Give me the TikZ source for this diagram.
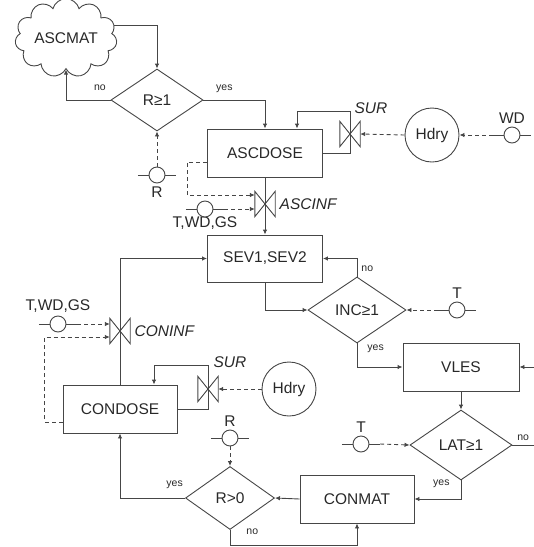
\documentclass[tikz,border=0pt]{standalone}
\usepackage{fontspec}
\setmainfont{Liberation Sans}
\definecolor{lnclr}{RGB}{70,70,70}
\definecolor{txclr}{RGB}{40,40,40}
\usetikzlibrary{arrows.meta,positioning,shapes.geometric,shapes.symbols,calc}

\begin{document}
\begin{tikzpicture}[x=1pt, y=-1pt,
    font=\fontsize{15.5}{18}\selectfont,
    every node/.style={text=txclr},
    procbox/.style={draw=lnclr, line width=0.9pt, minimum width=115pt,
                minimum height=48pt, inner sep=0pt},
    decision/.style={draw=lnclr, line width=0.9pt, diamond, aspect=1.5, inner sep=0pt},
    valve/.style={minimum width=20pt, minimum height=25pt, inner sep=0pt},
    sensor/.style={minimum width=38pt, minimum height=16pt, inner sep=0pt},
    yn/.style={font=\fontsize{10.5}{12}\selectfont, inner sep=1pt},
    vlabel/.style={font=\fontsize{15.5}{18}\selectfont\itshape},
    flow/.style={-{Latex[length=5pt,width=4.5pt]}, line width=0.9pt, lnclr},
    sig/.style={flow, dash pattern=on 4pt off 3pt}
  ]
    \useasboundingbox (0,0) rectangle (534,547);

    % Ascospore side
    \node[cloud, draw=lnclr, line width=0.9pt, cloud puffs=11, aspect=1.45,
          minimum width=102pt, minimum height=70pt, inner sep=0pt] (ascmat) at (66,38) {ASCMAT};
    \node[decision, minimum width=92pt, minimum height=62pt] (dR) at (157,100) {R≥1};
    \node[sensor, label={below:R}] (sR) at (157,175) {};
    \node[procbox] (ascdose) at (265,153) {ASCDOSE};
    \node[valve, label={[vlabel, xshift=21pt, yshift=4pt]above:SUR}] (vSUR1) at (350,134) {};
    \node[draw=lnclr, line width=0.9pt, circle, minimum size=54pt, inner sep=0pt] (hdry1) at (432,135) {Hdry};
    \node[sensor, label={above:WD}] (sWD) at (512,135) {};
    \node[valve, label={[vlabel, label distance=1pt]right:ASCINF}] (vASCINF) at (265,204) {};
    \node[sensor, label={[label distance=-4pt]below:{T,WD,GS}}] (sA) at (205,209) {};

    % Infection and lesions
    \node[procbox, minimum height=47pt] (sev) at (265,258.5) {SEV1,SEV2};
    \node[decision, minimum width=98pt, minimum height=66pt] (dINC) at (357,310) {INC≥1};
    \node[sensor, label={above:T}] (sT1) at (457,310) {};
    \node[procbox, minimum width=116pt] (vles) at (461,367) {VLES};
    \node[decision, minimum width=102pt, minimum height=70pt] (dLAT) at (461,445) {LAT≥1};
    \node[sensor, label={above:T}] (sT2) at (361,444) {};
    \coordinate (inR) at (534,367);
    \coordinate (outR) at (534,445);

    % Conidia side
    \node[procbox, minimum width=114pt] (conmat) at (357,499) {CONMAT};
    \node[decision, minimum width=89pt, minimum height=63pt] (dR0) at (230,498) {R>0};
    \node[sensor, label={above:R}] (sR0) at (230,438) {};
    \node[procbox, minimum width=114pt] (condose) at (120,409) {CONDOSE};
    \node[valve, label={[vlabel, xshift=22pt, yshift=5pt]above:SUR}] (vSUR2) at (208,389) {};
    \node[draw=lnclr, line width=0.9pt, circle, minimum size=54pt, inner sep=0pt] (hdry2) at (289,389) {Hdry};
    \node[valve, label={[vlabel, label distance=1pt]right:CONINF}] (vCON) at (120,331) {};
    \node[sensor, label={above:{T,WD,GS}}] (sC) at (58,324) {};

    % Valves and sensors
    \foreach \v in {vSUR1,vASCINF,vSUR2,vCON}
      \draw[lnclr, line width=0.9pt] (\v.north west) -- (\v.south east)
        -- (\v.north east) -- (\v.south west) -- cycle;
    \foreach \s in {sR,sWD,sA,sT1,sT2,sR0,sC} {
      \draw[lnclr, line width=0.9pt] (\s.west) -- (\s.east);
      \draw[lnclr, line width=0.9pt, fill=white] (\s.center) circle (8pt);
    }

    % Flow arrows
    \draw[flow] (ascmat.15) -| (dR.north);
    \draw[flow] (dR.west) -| node[yn, pos=0.12, above=8pt] {no} (ascmat.south);
    \draw[flow] (dR.east) -| node[yn, pos=0.17, above=6pt] {yes} (ascdose.north);
    \draw[flow] (ascdose.east) -| ([yshift=10pt]vSUR1.north) -| ([xshift=32pt]ascdose.north);
    \draw[flow] (ascdose.south) -- (sev.north);
    \draw[flow] (dINC.north) |- node[yn, pos=0.22, right=3pt] {no} (sev.east);
    \draw[flow] (sev.south) |- (dINC.west);
    \draw[flow] (dINC.south) |- node[yn, pos=0.12, right=9pt] {yes} (vles.west);
    \draw[flow] (inR) -- (vles.east);
    \draw[flow] (vles.south) -- (dLAT.north);
    \draw[lnclr, line width=0.9pt] (dLAT.east) -- node[yn, above=3pt] {no} (outR);
    \draw[flow] (dLAT.south) |- node[yn, pos=0.1, left=10pt] {yes} (conmat.east);
    \draw[flow] (conmat.west) -- (dR0.east);
    \draw[flow] (dR0.south) -- node[yn, pos=0.1, right=15pt] {no} ++(0,15) -| (conmat.south);
    \draw[flow] (dR0.west) -| node[yn, pos=0.08, above=8pt] {yes} (condose.south);
    \draw[flow] (condose.north) |- (sev.west);
    \draw[flow] (condose.east) -| ([yshift=11pt]vSUR2.north) -| ([xshift=34pt]condose.north);

    % Dashed signals
    \draw[sig] (sR.north) -- (dR.south);
    \draw[sig] (sWD.west) -- (hdry1.east);
    \draw[sig] (hdry1.west) -- (vSUR1.east);
    \draw[sig] ([yshift=-9pt]ascdose.west) -- ++(-20,0) |- ([yshift=9pt]vASCINF.west);
    \draw[sig] (sA.east) -- (sA.east -| vASCINF.west);
    \draw[sig] (sT1.west) -- (dINC.east);
    \draw[sig] (sT2.east) -- (dLAT.west);
    \draw[sig] (sR0.south) -- (dR0.north);
    \draw[sig] (hdry2.west) -- (vSUR2.east);
    \draw[sig] (sC.east) -- (sC.east -| vCON.west);
    \draw[sig] ([yshift=-13pt]condose.west) -- ++(-18,0) |- ([yshift=-6pt]vCON.west);
  \end{tikzpicture}
\end{document}
